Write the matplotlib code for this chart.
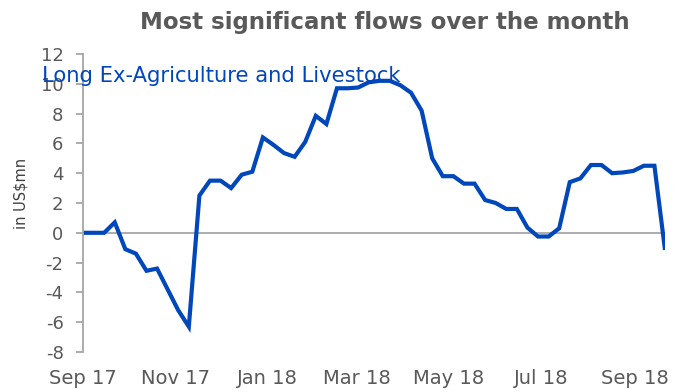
import matplotlib
matplotlib.use("Agg")
import matplotlib.pyplot as plt
import matplotlib.dates as mdates
import pandas as pd

# Weekly flow series, US$ millions
start_date = "2017-09-01"
n_weeks = 56
flows = [
    0.0, 0.0, 0.0, 0.7, -1.1, -1.4, -2.55, -2.4, -3.8, -5.2,
    -6.3, 2.5, 3.5, 3.5, 3.0, 3.9, 4.1, 6.4, 5.9, 5.35,
    5.1, 6.1, 7.85, 7.3, 9.7, 9.7, 9.75, 10.1, 10.2, 10.2,
    9.9, 9.4, 8.2, 5.0, 3.8, 3.8, 3.3, 3.3, 2.2, 2.0,
    1.6, 1.6, 0.35, -0.25, -0.25, 0.3, 3.4, 3.65, 4.55, 4.55,
    4.0, 4.05, 4.15, 4.5, 4.5, -1.15,
]
dates = pd.date_range(start_date, periods=n_weeks, freq="7D")

title = "Most significant flows over the month"
series_label = "Long Ex-Agriculture and Livestock"
y_label = "in US$mn"
y_ticks = list(range(-8, 13, 2))

plt.rcParams["font.family"] = ["DejaVu Sans"]
plt.rcParams["axes.unicode_minus"] = False

grey_text = "#595959"
grey_line = "#A6A6A6"
blue = "#0047BB"

W, H = 690, 392
fig = plt.figure(figsize=(W / 100, H / 100), dpi=100)
ax = fig.add_axes([83 / W, 40 / H, 582 / W, 298 / H])

ax.plot(dates, flows, color=blue, linewidth=3.0, solid_joinstyle="miter",
        solid_capstyle="butt")
ax.axhline(0, color=grey_line, linewidth=1.3, zorder=1)

ax.set_xlim(dates[0], dates[-1])
ax.set_ylim(-8, 12)
ax.set_yticks(y_ticks)

for side in ("top", "right", "bottom"):
    ax.spines[side].set_visible(False)
ax.spines["left"].set_color(grey_line)
ax.spines["left"].set_linewidth(1.3)

ax.tick_params(axis="y", direction="out", length=5, width=1.3,
               color=grey_line, labelcolor=grey_text, labelsize=13, pad=9)
ax.xaxis.set_major_locator(mdates.MonthLocator(bymonth=[1, 3, 5, 7, 9, 11]))
ax.xaxis.set_major_formatter(mdates.DateFormatter("%b %y"))
ax.tick_params(axis="x", length=0, labelcolor=grey_text, labelsize=14, pad=12)

fig.text(21 / W, 1 - 193 / H, y_label, rotation=90, ha="center", va="center",
         color="#404040", fontsize=10.5)

fig.text(385 / W, 1 - 29 / H, title, ha="center", va="baseline",
         fontsize=16.5, color=grey_text, fontweight="bold")
fig.text(42 / W, 1 - 82 / H, series_label, ha="left", va="baseline",
         fontsize=15.2, color=blue)

fig.savefig("out.png", dpi=100)
